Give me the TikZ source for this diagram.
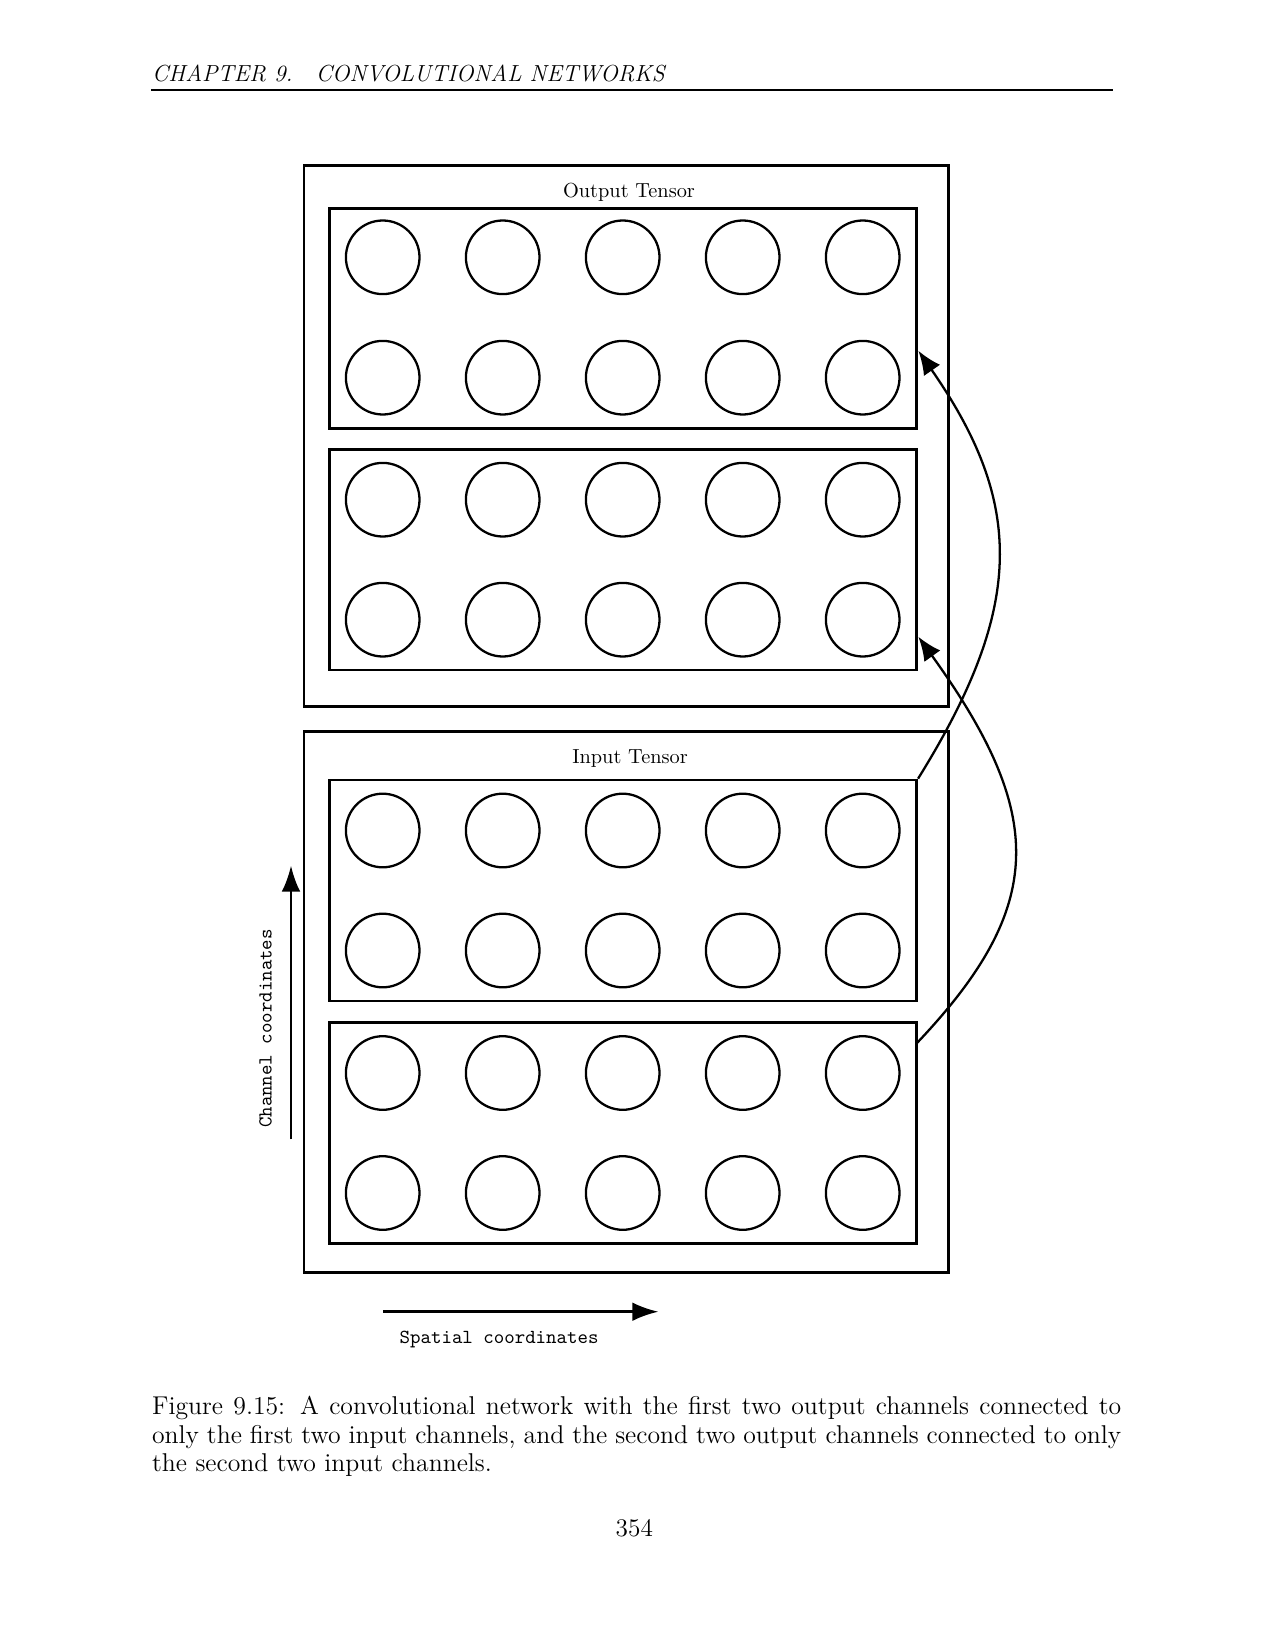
\documentclass[tikz,border=0pt]{standalone}
\usetikzlibrary{arrows.meta,fit}
\begin{document}
\begin{tikzpicture}[x=0.4818pt,y=-0.4818pt,
  box/.style={draw,line width=1.3pt,inner sep=0pt},
  neuron/.style={draw,circle,line width=1.1pt,minimum size=35.46pt,inner sep=0pt},
  conn/.style={line width=1.1pt,-{Latex[length=11.5pt,width=9.5pt]}},
  axisarrow/.style={line width=1.2pt,-{Latex[length=12.5pt,width=9pt]}},
  lbl/.style={font=\fontsize{9.8}{11}\selectfont,inner sep=0pt,anchor=base},
  ttlbl/.style={font=\fontsize{9.6}{11}\selectfont\ttfamily,inner sep=0pt},
  captxt/.style={font=\fontsize{12.4}{14}\selectfont,inner sep=0pt,anchor=base west},
]
\path[use as bounding box,fill=white] (0,0) rectangle (1275,1650);

% running head
\node[anchor=base west,inner sep=0pt,font=\fontsize{11.2}{13}\selectfont\itshape] (hdr) at (151.7,81.7) {CHAPTER 9.\quad CONVOLUTIONAL NETWORKS};
\draw[line width=0.7pt] (151,90) -- (1113,90);

% outer tensors
\node[box,fit={(304,165.7) (948.3,706.7)}] (outT) {};
\node[box,fit={(304,731.7) (948.3,1272.2)}] (inT) {};
\node[lbl] (outlbl) at (629,197.3) {Output Tensor};
\node[lbl] (inlbl) at (630,763) {Input Tensor};

% channel boxes
\node[box,fit={(329.3,208.3) (916.7,428.5)}] (ob1) {};
\node[box,fit={(329.3,449.3) (916.7,670)}] (ob2) {};
\node[box,fit={(329.3,780) (916.7,1001)}] (ib1) {};
\node[box,fit={(329.3,1022.7) (916.7,1243.5)}] (ib2) {};

% units
\foreach \r/\y in {o1/257.3, o2/377.7, o3/499.7, o4/619.7, i1/830.5, i2/950.5, i3/1073, i4/1193}
  \foreach \c in {1,...,5}
    \node[neuron] (\r\c) at ({262.7+120*\c},\y) {};

% connections
\coordinate (t1) at (918.3,350.7);
\coordinate (s2) at (916.7,1043.3);
\coordinate (t2) at (918.3,636.7);
\draw[conn] (ib1.north east) .. controls (1024.8,607) and (1024.8,504) .. (t1);
\draw[conn] (s2) .. controls (1046.7,906.3) and (1046.7,815) .. (t2);

% axes
\coordinate (sa) at (383.3,1311.7);
\coordinate (sb) at (658.3,1311.7);
\draw[axisarrow] (sa) -- (sb);
\node[ttlbl,anchor=base west] (slbl) at (399.3,1343.3) {Spatial coordinates};
\coordinate (ca) at (291,1139.3);
\coordinate (cb) at (291,865.7);
\draw[axisarrow] (ca) -- (cb);
\node[ttlbl,anchor=base west,rotate=90] (clbl) at (271.7,1128.3) {Channel coordinates};

% caption
\node[captxt] (cap1) at (151.7,1414.3) {\makebox[466.9pt][s]{Figure 9.15: A convolutional network with the first two output channels connected to}};
\node[captxt] (cap2) at (151.7,1443.0) {\makebox[466.9pt][s]{only the first two input channels, and the second two output channels connected to only}};
\node[captxt] (cap3) at (151.7,1471.7) {the second two input channels.};

% page number
\node[anchor=base,inner sep=0pt,font=\fontsize{12.2}{14}\selectfont] (pg) at (634.3,1536.7) {354};
\end{tikzpicture}
\end{document}
